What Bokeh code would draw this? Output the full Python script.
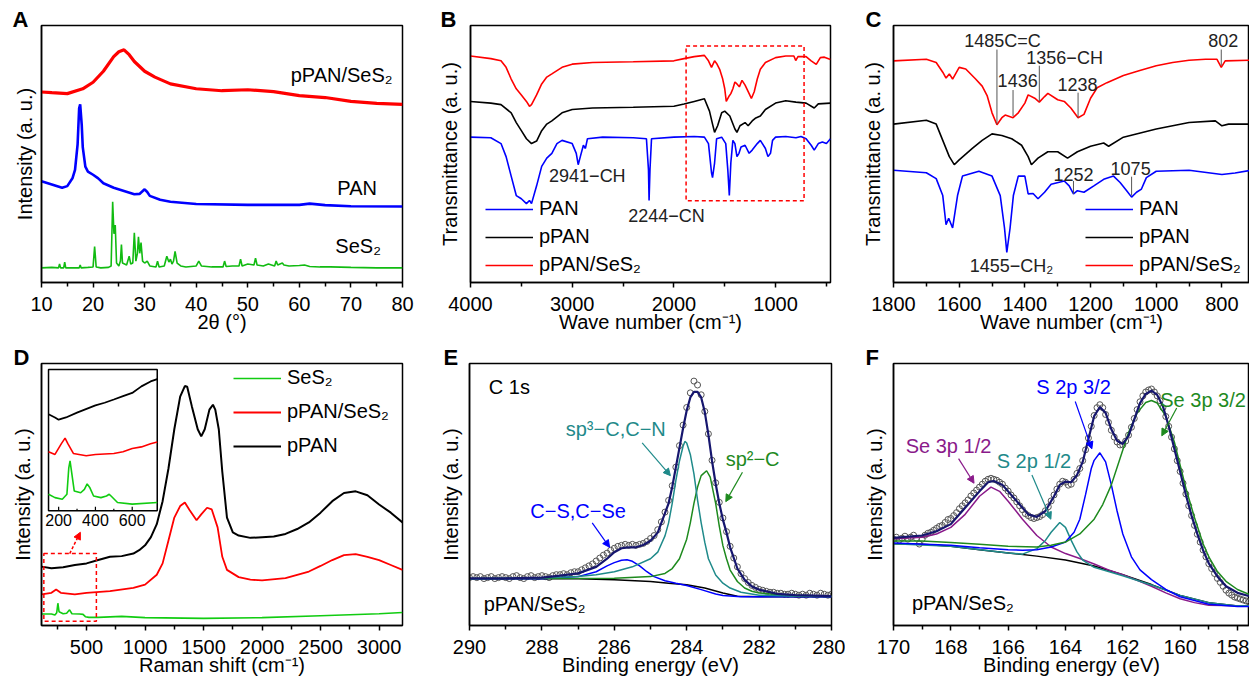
from bokeh.plotting import figure
from bokeh.layouts import row, column
from bokeh.models import (Range1d, FixedTicker, Label, Arrow, NormalHead,
                          BoxAnnotation, Legend, LegendItem)
from bokeh.embed import file_html
from bokeh.resources import INLINE
from bokeh.core.properties import value

FONT = "Liberation Sans"

# ======================= DATA =======================
# ---- A: XRD (2theta, intensity a.u.) ----
xrd_ticks = [10, 20, 30, 40, 50, 60, 70, 80]
xrd_minor = [15, 25, 35, 45, 55, 65, 75]
xrd_ppan_ses2 = [(10, 195.7), (12, 195), (15, 194), (18, 199), (20, 205.7), (22, 217), (24, 232),
                 (25, 237), (26, 239), (27, 234), (28, 227), (30, 217), (32, 211), (35, 204),
                 (40, 199), (45, 197), (50, 198), (55, 196), (60, 192), (65, 190), (70, 186),
                 (75, 184), (80, 183)]
xrd_pan = [(10, 104), (12, 100.7), (14, 97.3), (15, 99), (16, 107), (16.5, 115.7), (17, 142),
           (17.3, 179), (17.5, 183), (17.8, 162), (18, 139), (18.5, 119), (19, 114), (20, 110.7),
           (21, 107), (22, 102), (24, 97.3), (26, 94), (28, 90.7), (29, 91), (30, 95.7),
           (30.5, 93), (31, 89), (33, 85), (35, 83), (40, 80.7), (50, 79.7), (60, 79.7),
           (62, 81), (65, 79.5), (70, 78.3), (80, 78)]
xrd_ses2 = [(10, 15), (12, 15.5), (13.3, 15), (13.5, 19), (13.7, 15), (14.3, 15), (14.5, 21),
            (14.7, 15), (16, 15), (17.3, 15), (17.5, 18), (17.7, 15), (19, 15.5), (20.0, 16),
            (20.3, 37), (20.6, 16), (21.5, 15), (23.0, 15.5), (23.5, 17), (23.8, 83), (24.05, 50),
            (24.3, 59), (24.55, 20), (25.0, 17), (25.3, 22), (25.5, 39), (25.7, 20), (26.5, 18),
            (27.0, 27), (27.3, 19), (27.7, 20), (28.0, 51), (28.3, 22), (28.6, 30), (28.8, 47),
            (29.05, 30), (29.3, 41), (29.6, 22), (30.0, 20), (30.5, 22), (31.0, 17), (32.2, 16),
            (32.5, 22), (32.8, 16), (33.8, 17), (34.3, 27), (34.7, 21), (35.0, 24), (35.3, 19),
            (35.6, 22), (35.9, 32), (36.3, 20), (37, 17), (38, 16), (40.0, 17), (40.5, 22),
            (41.0, 17), (43, 16), (45.2, 16), (45.5, 22), (45.8, 16.5), (47, 17), (48.3, 17),
            (48.6, 24), (48.9, 17), (50, 19), (51.2, 18), (51.5, 25), (51.8, 18), (53, 17),
            (54, 19), (55.2, 17), (55.5, 22), (55.8, 18), (56.7, 20), (57, 18), (58, 17),
            (60, 17.5), (61, 18), (62, 16.5), (64, 16), (66, 16), (70, 15.5), (75, 15), (80, 15)]

# ---- B: FTIR full range (wavenumber, transmittance a.u.) ----
ftir_ticks = [4000, 3000, 2000, 1000]
ftir_minor = [3500, 2500, 1500, 500]
ftir_ppan_ses2 = [(4000, 232.7), (3800, 230), (3700, 227.7), (3650, 221), (3600, 209), (3550, 199),
                  (3500, 192.7), (3450, 186), (3420, 181), (3400, 182.7), (3350, 192.7),
                  (3300, 204), (3250, 211), (3200, 214.3), (3100, 221), (3000, 224.3),
                  (2800, 226), (2400, 226.7), (2000, 227.7), (1900, 230), (1800, 232),
                  (1700, 233.3), (1660, 227.7), (1630, 221), (1600, 227.7), (1580, 225),
                  (1550, 219), (1520, 209), (1500, 199), (1485, 186), (1460, 191), (1440, 194),
                  (1420, 199), (1400, 206), (1380, 204), (1356, 201), (1330, 207.7), (1300, 202.7),
                  (1260, 194), (1238, 189), (1210, 196), (1180, 209), (1150, 219), (1100, 226),
                  (1000, 231), (900, 232.7), (820, 232.7), (802, 228), (780, 232), (700, 232),
                  (650, 227.7), (600, 224), (560, 231), (520, 231.5), (460, 229)]
ftir_ppan = [(4000, 186), (3800, 184.3), (3700, 182.7), (3600, 174.3), (3550, 164.3), (3500, 156),
             (3450, 147.7), (3400, 142.7), (3350, 145.3), (3300, 156), (3250, 162.7), (3200, 166),
             (3100, 174.3), (3000, 177.7), (2800, 179.3), (2400, 180), (2000, 181), (1900, 183.3),
             (1800, 186), (1700, 188.7), (1650, 176), (1620, 162.7), (1600, 154.3), (1570, 161),
             (1530, 174.3), (1500, 176), (1450, 171), (1400, 157.7), (1380, 154.3), (1350, 161),
             (1300, 164.3), (1270, 161), (1230, 166), (1200, 168.7), (1150, 171), (1100, 177.7),
             (1000, 184.3), (900, 186.7), (800, 185.3), (700, 184.3), (620, 179.3), (580, 183.5),
             (460, 184.3)]
ftir_pan = [(4000, 149.3), (3800, 148.7), (3700, 142.7), (3650, 129.3), (3600, 109.3), (3550, 89.3),
            (3500, 86), (3450, 81), (3420, 84.3), (3400, 81), (3350, 99.3), (3300, 119.3),
            (3250, 127.7), (3200, 132.7), (3150, 142.7), (3100, 146), (3000, 142.7), (2960, 132.7),
            (2941, 121), (2920, 129.3), (2890, 141), (2870, 137.7), (2850, 147.7), (2700, 149.3),
            (2400, 148.7), (2270, 147.7), (2250, 116), (2244, 84.3), (2235, 116), (2220, 147.7),
            (2000, 149.3), (1800, 150), (1700, 149.3), (1660, 142.7), (1630, 112.7), (1620, 107.7),
            (1600, 122.7), (1580, 147.7), (1530, 149.3), (1490, 142.7), (1470, 116), (1455, 89.3),
            (1440, 122.7), (1420, 146), (1400, 142.7), (1380, 129.3), (1360, 132.7), (1340, 139.3),
            (1300, 141), (1260, 132.7), (1230, 136), (1180, 142.7), (1150, 146), (1100, 137.7),
            (1075, 129.3), (1050, 132.7), (1030, 146), (1000, 149.3), (900, 150), (800, 148.7),
            (750, 150), (700, 147.7), (650, 141), (620, 136), (580, 142.7), (540, 144.3),
            (500, 142.7), (460, 147.7)]

# ---- C: FTIR fingerprint region ----
fp_ticks = [1800, 1600, 1400, 1200, 1000, 800]
fp_minor = [1700, 1500, 1300, 1100, 900]
fp_ppan_ses2 = [(1800, 227.7), (1700, 229.3), (1670, 226), (1650, 216), (1640, 210), (1630, 214.3),
                (1620, 209), (1600, 221), (1580, 219.3), (1550, 209), (1530, 201.7), (1515, 192),
                (1500, 174.3), (1485, 162), (1470, 169.3), (1460, 172), (1436, 169.3),
                (1420, 174.3), (1400, 184.3), (1390, 192.7), (1370, 189.3), (1356, 185.3),
                (1340, 191), (1330, 194.3), (1300, 187.7), (1280, 186), (1260, 179.3),
                (1238, 169.3), (1220, 172.7), (1200, 189.3), (1180, 200), (1150, 205.3),
                (1100, 212.7), (1050, 217.7), (1000, 222.7), (950, 226), (900, 228.3),
                (850, 229.3), (815, 229.3), (802, 221), (790, 227.7), (716, 228.3)]
fp_ppan = [(1800, 162.7), (1700, 166.7), (1670, 162.7), (1650, 146), (1630, 129.3), (1615, 121),
           (1600, 126), (1560, 137.7), (1530, 146), (1500, 152.7), (1470, 151), (1440, 147.7),
           (1410, 141), (1390, 129.3), (1380, 121), (1360, 127.7), (1330, 134.3), (1300, 134.3),
           (1270, 127.7), (1240, 134.3), (1200, 140), (1160, 143.3), (1145, 140), (1100, 149.3),
           (1000, 157.7), (900, 164.3), (820, 166), (800, 161), (780, 162.7), (716, 162.7)]
fp_pan = [(1800, 115.3), (1700, 112.7), (1670, 106.7), (1650, 89.3), (1640, 59.3), (1632, 66),
          (1620, 56), (1605, 89.3), (1590, 109.3), (1540, 114.3), (1500, 109.3), (1475, 89.3),
          (1462, 56), (1455, 31), (1445, 56), (1435, 89.3), (1420, 109.3), (1400, 109.3),
          (1390, 91), (1375, 91.5), (1360, 86), (1340, 92.7), (1320, 101), (1280, 104.3),
          (1265, 99.3), (1252, 91), (1240, 94.3), (1220, 92.7), (1190, 99.3), (1160, 106),
          (1130, 109.3), (1110, 102.7), (1090, 94.3), (1075, 87.7), (1060, 92.7), (1045, 96),
          (1030, 107.7), (1000, 114.3), (900, 115.3), (800, 111), (760, 112.5), (716, 115)]

# ---- D: Raman (shift, intensity a.u.) ----
ram_ticks = [500, 1000, 1500, 2000, 2500, 3000]
ram_minor = [250, 750, 1250, 1750, 2250, 2750]
ram_ppan = [(115, 60), (200, 58.3), (300, 59.3), (400, 61.7), (500, 63.3), (600, 66.7), (700, 70),
            (800, 70.7), (900, 73.3), (950, 76.7), (1000, 81.7), (1050, 90), (1100, 103.3),
            (1150, 126.7), (1200, 160), (1250, 200), (1300, 233.3), (1340, 244), (1360, 243.3),
            (1400, 223.3), (1450, 200), (1480, 192.7), (1510, 200), (1550, 220), (1580, 225),
            (1600, 220), (1630, 200), (1660, 156.7), (1700, 110), (1750, 95), (1800, 91.7),
            (1900, 89.3), (2000, 90), (2100, 90.7), (2200, 93.3), (2300, 98.3), (2400, 105),
            (2500, 115), (2600, 126.7), (2700, 135), (2800, 136.7), (2900, 132.7), (3000, 123.3),
            (3100, 115), (3200, 105)]
ram_ppan_ses2 = [(115, 31.7), (200, 33.3), (240, 36.7), (280, 33.3), (400, 31.7), (500, 33.3),
                 (700, 35), (900, 38.3), (1000, 41.7), (1100, 51.7), (1150, 63.3), (1200, 86.7),
                 (1250, 110), (1300, 121.7), (1340, 125.3), (1380, 117.7), (1440, 107.3),
                 (1480, 113.3), (1530, 120), (1570, 118.3), (1620, 100), (1660, 70), (1700, 56.7),
                 (1800, 49.3), (1900, 46.7), (2000, 46), (2200, 48.3), (2400, 55), (2500, 60.7),
                 (2600, 66.7), (2700, 71.7), (2800, 72.7), (2900, 70), (3000, 66.7), (3100, 61.7),
                 (3200, 56.7)]
ram_ses2 = [(115, 11.7), (200, 11.7), (230, 10.7), (245, 13), (255, 22.7), (265, 14), (300, 12),
            (330, 12.5), (355, 16), (375, 12), (440, 11.7), (470, 11.3), (490, 9), (520, 8.3),
            (600, 8.3), (800, 9.3), (1000, 8), (1500, 7.3), (2000, 8), (2500, 10), (3000, 12),
            (3200, 13.3)]
# inset (low-shift region)
ins_ticks = [200, 400, 600]
ins_minor = [300, 500]
ins_ppan = [(145, 98.3), (180, 95), (200, 92.7), (240, 95), (300, 100), (400, 107.3), (450, 110),
            (500, 113.3), (550, 116.7), (600, 120), (650, 126.7), (700, 131.7), (736, 134)]
ins_ppan_ses2 = [(145, 60), (180, 57.3), (215, 68.3), (235, 74), (250, 68.3), (280, 58.3),
                 (350, 56), (400, 57.3), (500, 58.3), (550, 60), (600, 63.3), (650, 65),
                 (700, 68.3), (736, 70)]
ins_ses2 = [(145, 16.7), (180, 13.3), (220, 11.7), (245, 16.7), (255, 43.3), (262, 50.7),
            (270, 40), (285, 20), (320, 18.3), (340, 21.7), (355, 27.3), (370, 23.3), (390, 15),
            (430, 13.3), (460, 15), (475, 16.7), (485, 15), (520, 8.3), (600, 6.7), (736, 8.3)]

# ---- E: XPS C 1s ----
xps_e_ticks = [290, 288, 286, 284, 282, 280]
xps_e_minor = [289, 287, 285, 283, 281]
c1s_x = [290.0, 289.9, 289.8, 289.7, 289.6, 289.5, 289.4, 289.3, 289.2, 289.1,
         289.0, 288.9, 288.8, 288.7, 288.6, 288.5, 288.4, 288.3, 288.2, 288.1,
         288.0, 287.9, 287.8, 287.7, 287.6, 287.5, 287.4, 287.3, 287.2, 287.1,
         287.0, 286.9, 286.8, 286.7, 286.6, 286.5, 286.4, 286.3, 286.2, 286.1,
         286.0, 285.9, 285.8, 285.7, 285.6, 285.5, 285.4, 285.3, 285.2, 285.1,
         285.0, 284.9, 284.8, 284.7, 284.6, 284.5, 284.4, 284.3, 284.2, 284.1,
         284.0, 283.9, 283.8, 283.7, 283.6, 283.5, 283.4, 283.3, 283.2, 283.1,
         283.0, 282.9, 282.8, 282.7, 282.6, 282.5, 282.4, 282.3, 282.2, 282.1,
         282.0, 281.9, 281.8, 281.7, 281.6, 281.5, 281.4, 281.3, 281.2, 281.1,
         281.0, 280.9, 280.8, 280.7, 280.6, 280.5, 280.4, 280.3, 280.2, 280.1,
         280.0]
c1s_y = [49, 50, 49, 50, 48, 49, 50, 48, 49, 50,
         49, 48, 50, 51, 49, 48, 50, 51, 49, 50,
         51, 50, 49, 51, 52, 52, 53, 52, 54, 55,
         55, 57, 59, 61, 63, 66, 69, 72, 74, 77,
         79, 81, 82, 83, 82, 83, 82, 83, 84, 86,
         89, 92, 98, 106, 116, 128, 143, 162, 184, 205,
         223, 238, 250, 246, 236, 219, 196, 169, 146, 126,
         110, 96, 81, 69, 60, 53, 48, 44, 41, 39,
         37, 36, 35, 34, 34, 33, 33, 32, 32, 33,
         32, 31, 32, 31, 33, 32, 31, 33, 32, 31,
         32]
c1s_env = [(290, 48.3), (289, 48.3), (288, 49), (287.5, 51), (287, 53.3), (286.5, 60), (286.2, 68.3),
           (286, 75), (285.8, 79), (285.6, 80), (285.4, 80), (285.2, 82.3), (285, 86.7),
           (284.8, 95), (284.6, 115), (284.5, 125), (284.4, 141.7), (284.3, 161.7),
           (284.2, 181.7), (284.1, 201.7), (284, 220), (283.9, 233.3), (283.8, 239),
           (283.7, 239), (283.6, 233.3), (283.5, 218.3), (283.4, 195), (283.3, 168.3),
           (283.2, 145), (283.1, 125), (283, 108.3), (282.9, 95), (282.8, 80), (282.6, 58.3),
           (282.4, 46.7), (282.2, 40), (282, 36.7), (281.5, 32.3), (281, 31), (280, 30)]
c1s_bg = [(290, 47.7), (287, 47.7), (286, 46.7), (285, 45), (284.5, 43.3), (284, 41.7),
          (283.5, 38.3), (283, 33.3), (282.6, 30), (282, 29.3), (280, 29.3)]
c1s_sp3 = [(290, 47.7), (288, 48.7), (287, 50), (286.5, 52), (286, 55), (285.5, 60), (285, 68.3),
           (284.8, 75), (284.6, 91.7), (284.5, 105), (284.4, 125), (284.3, 148.3), (284.2, 168.3),
           (284.1, 183.3), (284.05, 188.3), (284, 186.7), (283.9, 175), (283.8, 155),
           (283.7, 128.3), (283.6, 105), (283.5, 85), (283.4, 68.3), (283.2, 51.7), (283, 43.3),
           (282.8, 38.3), (282.5, 34), (282, 31), (281, 30), (280, 29.7)]
c1s_sp2 = [(290, 48), (286, 48.3), (285, 50), (284.6, 53.3), (284.4, 58.3), (284.2, 68.3),
           (284, 88.3), (283.9, 105), (283.8, 125), (283.7, 141.7), (283.6, 153.3),
           (283.45, 158.3), (283.35, 151.7), (283.2, 125), (283.1, 101.7), (283, 81.7),
           (282.9, 68.3), (282.8, 56.7), (282.6, 45), (282.4, 38.3), (282.2, 35), (282, 33.3),
           (281.5, 31.7), (281, 31), (280, 30)]
c1s_cs = [(290, 47.7), (288, 47.7), (287, 50), (286.5, 55), (286.2, 61), (286, 64.3), (285.8, 66.7),
          (285.65, 67.3), (285.5, 65.7), (285.3, 61), (285.1, 55), (284.9, 50), (284.6, 45.7),
          (284.3, 43.3), (284, 41), (283.6, 36.7), (283.2, 32.3), (283, 30.7), (282.5, 29.3),
          (280, 29.3)]

# ---- F: XPS S 2p / Se 3p ----
xps_f_ticks = [170, 168, 166, 164, 162, 160, 158]
xps_f_minor = [169, 167, 165, 163, 161, 159]
s2p_x = [170.0, 169.9, 169.8, 169.7, 169.6, 169.5, 169.4, 169.3, 169.2, 169.1,
         169.0, 168.9, 168.8, 168.7, 168.6, 168.5, 168.4, 168.3, 168.2, 168.1,
         168.0, 167.9, 167.8, 167.7, 167.6, 167.5, 167.4, 167.3, 167.2, 167.1,
         167.0, 166.9, 166.8, 166.7, 166.6, 166.5, 166.4, 166.3, 166.2, 166.1,
         166.0, 165.9, 165.8, 165.7, 165.6, 165.5, 165.4, 165.3, 165.2, 165.1,
         165.0, 164.9, 164.8, 164.7, 164.6, 164.5, 164.4, 164.3, 164.2, 164.1,
         164.0, 163.9, 163.8, 163.7, 163.6, 163.5, 163.4, 163.3, 163.2, 163.1,
         163.0, 162.9, 162.8, 162.7, 162.6, 162.5, 162.4, 162.3, 162.2, 162.1,
         162.0, 161.9, 161.8, 161.7, 161.6, 161.5, 161.4, 161.3, 161.2, 161.1,
         161.0, 160.9, 160.8, 160.7, 160.6, 160.5, 160.4, 160.3, 160.2, 160.1,
         160.0, 159.9, 159.8, 159.7, 159.6, 159.5, 159.4, 159.3, 159.2, 159.1,
         159.0, 158.9, 158.8, 158.7, 158.6, 158.5, 158.4, 158.3, 158.2, 158.1,
         158.0, 157.9, 157.8, 157.7, 157.6]
s2p_y = [88, 90, 87, 89, 91, 88, 90, 92, 89, 83,
         88, 92, 94, 95, 97, 99, 101, 102, 105, 108,
         109, 112, 115, 119, 122, 125, 128, 132, 135, 138,
         141, 144, 147, 149, 150, 149, 148, 146, 144, 140,
         137, 133, 130, 126, 122, 118, 114, 112, 110, 109,
         110, 111, 113, 117, 121, 127, 133, 139, 144, 147,
         146, 143, 144, 149, 155, 160, 168, 179, 191, 203,
         214, 222, 225, 222, 215, 207, 199, 192, 187, 184,
         184, 188, 194, 202, 211, 220, 228, 234, 238, 240,
         241, 238, 234, 229, 222, 213, 203, 192, 180, 168,
         157, 145, 134, 122, 112, 102, 93, 85, 77, 70,
         63, 58, 53, 48, 44, 40, 36, 33, 31, 29,
         28, 27, 26, 25, 24]
s2p_env = [(170, 89.3), (169, 91.7), (168.5, 96), (168, 103.3), (167.5, 120), (167, 136.7),
           (166.7, 146), (166.5, 147.3), (166.2, 143.3), (166, 136.7), (165.6, 123.3),
           (165.3, 113.3), (165, 110.7), (164.7, 116.7), (164.4, 131.7), (164.2, 143.3),
           (164, 146.7), (163.8, 146), (163.6, 153.3), (163.4, 166.7), (163.2, 190),
           (163, 213.3), (162.8, 222.7), (162.6, 216.7), (162.4, 200), (162.2, 188.3),
           (162, 185), (161.8, 193.3), (161.6, 210), (161.4, 226.7), (161.2, 236), (161, 239.3),
           (160.8, 235), (160.6, 223.3), (160.4, 203.3), (160.2, 180), (160, 156.7),
           (159.8, 133.3), (159.6, 111.7), (159.4, 93.3), (159.2, 76.7), (159, 63.3),
           (158.7, 50), (158.4, 40), (158, 33.3), (157.6, 30)]
s2p_bg = [(170, 83.3), (169, 82.7), (168, 80.7), (167, 77.3), (166, 74), (165, 70.7), (164, 66.7),
          (163, 60.7), (162, 51.7), (161, 41.7), (160, 30.7), (159, 23.3), (158, 20), (157.6, 20)]
se3p12 = [(170, 88.3), (169, 90), (168.5, 93.3), (168, 100), (167.5, 113.3), (167, 131.7),
          (166.6, 141), (166.3, 136.7), (166, 126.7), (165.5, 108.3), (165, 91.7), (164.5, 80),
          (164, 73.3), (163.5, 68.3), (163, 62.7), (162.5, 56.7), (162, 51.7), (161.5, 46),
          (161, 40), (160.5, 33.3), (160, 27.3), (159.5, 23.3), (159, 20.7), (158, 20),
          (157.6, 20)]
s2p12 = [(170, 83.3), (168, 80.7), (166, 74), (165.5, 72.7), (165, 78.3), (164.7, 86.7),
         (164.5, 95), (164.2, 105), (164, 100), (163.8, 86.7), (163.6, 75), (163.4, 66.7),
         (163, 59.3), (162.5, 55), (162, 50.7), (161, 41.3), (160, 30.7), (159, 23.3), (158, 20),
         (157.6, 20)]
s2p32 = [(170, 84), (168, 81.7), (167, 79.3), (166, 77.3), (165.5, 76.7), (165, 77.3), (164.5, 80),
         (164, 85), (163.7, 95), (163.5, 108.3), (163.3, 133.3), (163.1, 160), (163, 168.3),
         (162.8, 176), (162.6, 166.7), (162.4, 143.3), (162.2, 116.7), (162, 93.3), (161.7, 70),
         (161.4, 56.7), (161, 46.7), (160.5, 36.7), (160, 29.3), (159, 21.7), (158, 19.3),
         (157.6, 19.3)]
se3p32 = [(170, 86), (169, 86), (168, 84.7), (167, 82.7), (166, 80.7), (165, 80), (164.5, 81.7),
          (164, 85), (163.5, 93.3), (163, 108.3), (162.7, 123.3), (162.4, 143.3), (162.1, 170),
          (161.8, 196.7), (161.5, 216.7), (161.2, 227.3), (161, 229.3), (160.8, 226.7),
          (160.5, 213.3), (160.2, 186.7), (160, 163.3), (159.8, 140), (159.5, 110),
          (159.2, 83.3), (159, 70), (158.7, 55), (158.4, 45), (158, 36.7), (157.6, 31.7)]

# ======================= STYLE / LAYOUT =======================
RED, BLUE, BLACK = "#ff0000", "#0000ff", "#000000"
GREEN_XRD, GREEN_RAM = "#11bb11", "#11cc11"
NAVY, TEAL, DGREEN, PURPLE = "#16166e", "#1f8a8a", "#1e8a1e", "#8a1a8a"
ANN = "#222222"

TOP_H, BOT_H = 335, 343
TOP_T, TOP_B = 25, 46
BOT_T, BOT_B = 28, 48


def xy(pairs):
    return [a for a, b in pairs], [b for a, b in pairs]


def make_fig(W, H, left, right, top, bottom, xr, yr, xlabel, ylabel, ystand, ticks, minor,
             panel, panel_dx):
    p = figure(width=W, height=H, x_range=Range1d(*xr), y_range=Range1d(*yr),
               output_backend="svg", toolbar_location=None,
               min_border_left=left, min_border_right=right,
               min_border_top=top, min_border_bottom=bottom)
    # panel letter as a left-aligned title over the frame's top-left corner
    p.title.text = panel
    p.title.align = "left"
    p.title.offset = panel_dx
    p.title.standoff = -13
    p.title.text_font = FONT
    p.title.text_font_size = "22px"
    p.title.text_font_style = "bold"
    p.title.text_color = "black"
    p.background_fill_color = "white"
    p.border_fill_color = "white"
    p.xgrid.visible = False
    p.ygrid.visible = False
    p.outline_line_color = "black"
    p.outline_line_width = 1.5
    p.outline_line_alpha = 1.0
    xa = p.xaxis[0]
    xa.ticker = FixedTicker(ticks=ticks, minor_ticks=minor)
    xa.axis_label = xlabel
    xa.axis_label_text_font = FONT
    xa.axis_label_text_font_size = "20px"
    xa.axis_label_text_font_style = "normal"
    xa.axis_label_text_color = "black"
    xa.axis_label_standoff = -3
    xa.major_label_text_font = FONT
    xa.major_label_text_font_size = "20px"
    xa.major_label_text_color = "black"
    xa.major_label_standoff = 9
    xa.major_tick_in = 0
    xa.major_tick_out = 5
    xa.minor_tick_in = 0
    xa.minor_tick_out = 4
    xa.axis_line_width = 1.5
    xa.major_tick_line_width = 1.5
    xa.minor_tick_line_width = 1.5
    ya = p.yaxis[0]
    ya.ticker = FixedTicker(ticks=[])
    ya.axis_label = ylabel
    ya.axis_label_text_font = FONT
    ya.axis_label_text_font_size = "20px"
    ya.axis_label_text_font_style = "normal"
    ya.axis_label_text_color = "black"
    ya.axis_label_standoff = ystand
    ya.major_tick_in = 0
    ya.major_tick_out = 0
    ya.minor_tick_in = 0
    ya.minor_tick_out = 0
    ya.axis_line_width = 1.5
    return p


def note(p, x, y, text, color=ANN, size="18px", align="center", baseline="middle"):
    p.add_layout(Label(x=x, y=y, text=text, text_color=color, text_font=FONT,
                       text_font_size=size, text_align=align, text_baseline=baseline))


def arrow(p, x0, y0, x1, y1, color, head=True, dash="solid", width=1.2):
    end = NormalHead(size=7, fill_color=color, line_color=color, line_width=1) if head else None
    p.add_layout(Arrow(end=end, x_start=x0, y_start=y0, x_end=x1, y_end=y1,
                       line_color=color, line_width=width, line_dash=dash))


def box(p, left, right, bottom, top):
    p.add_layout(BoxAnnotation(left=left, right=right, bottom=bottom, top=top,
                               fill_alpha=0, line_color=RED, line_alpha=1.0,
                               line_dash="4 3", line_width=1.5))


def legend(p, items, loc, spacing):
    lg = Legend(items=[LegendItem(label=lab, renderers=[r]) for lab, r in items],
                location=loc, label_text_font=FONT, label_text_font_size="20px",
                label_text_color="black", glyph_width=48, glyph_height=22, label_height=22,
                label_standoff=6, spacing=spacing, padding=0, margin=0,
                border_line_alpha=0, background_fill_alpha=0)
    p.add_layout(lg)


# ---------------- A ----------------
pA = make_fig(420, TOP_H, 41, 18, TOP_T, TOP_B, (10, 80), (0, 264), "2θ (°)",
              "Intensity (a. u.)", 6, xrd_ticks, xrd_minor, "A", -29)
x, y = xy(xrd_ses2); pA.line(x, y, color=GREEN_XRD, line_width=1.6)
x, y = xy(xrd_pan); pA.line(x, y, color=BLUE, line_width=2.6)
x, y = xy(xrd_ppan_ses2); pA.line(x, y, color=RED, line_width=3.2)
note(pA, 68.2, 213, "pPAN/SeS₂", "black", "20px")
note(pA, 71.2, 97, "PAN", "black", "20px")
note(pA, 71.4, 37, "SeS₂", "black", "20px")

# ---------------- B ----------------
pB = make_fig(425, TOP_H, 50, 15, TOP_T, TOP_B, (4000, 460), (0, 264), "Wave number (cm⁻¹)",
              "Transmittance (a. u.)", 10, ftir_ticks, ftir_minor, "B", -30)
x, y = xy(ftir_pan); rb = pB.line(x, y, color=BLUE, line_width=1.6)
x, y = xy(ftir_ppan); rk = pB.line(x, y, color=BLACK, line_width=1.6)
x, y = xy(ftir_ppan_ses2); rr = pB.line(x, y, color=RED, line_width=1.6)
box(pB, 1880, 720, 84, 243)
note(pB, 2851, 109, "2941−CH")
note(pB, 2073, 68, "2244−CN")
legend(pB, [("PAN", rb), ("pPAN", rk), ("pPAN/SeS₂", rr)], (15, 6), 5)

# ---------------- C ----------------
pC = make_fig(404, TOP_H, 48, 0, TOP_T, TOP_B, (1800, 716), (0, 264), "Wave number (cm⁻¹)",
              "Transmittance (a. u.)", 10, fp_ticks, fp_minor, "C", -28)
x, y = xy(fp_pan); cb = pC.line(x, y, color=BLUE, line_width=1.6)
x, y = xy(fp_ppan); ck = pC.line(x, y, color=BLACK, line_width=1.6)
x, y = xy(fp_ppan_ses2); cr = pC.line(x, y, color=RED, line_width=1.6)
for (px, y0, y1) in [(1485, 239.3, 162.7), (1356, 222.7, 186), (1436, 197.7, 171),
                     (1238, 195, 169.3), (802, 239.3, 222.7), (1252, 104.3, 91),
                     (1075, 108.7, 89.3)]:
    arrow(pC, px, y0, px, y1, "#555555", head=False, width=1)
note(pC, 1468, 248, "1485C=C")
note(pC, 1279, 231, "1356−CH")
note(pC, 1422, 207, "1436")
note(pC, 1240, 203, "1238")
note(pC, 796, 249, "802")
note(pC, 1252, 111, "1252")
note(pC, 1078, 117, "1075")
note(pC, 1441, 17, "1455−CH₂")
legend(pC, [("PAN", cb), ("pPAN", ck), ("pPAN/SeS₂", cr)], (192, 6), 5)

# ---------------- D ----------------
D_XR = (115, 3200)
D_YR = (0, 267)
pD = make_fig(420, BOT_H, 41, 18, BOT_T, BOT_B, D_XR, D_YR, "Raman shift (cm⁻¹)",
              "Intensity (a. u.)", 8, ram_ticks, ram_minor, "D", -28)
x, y = xy(ram_ses2); dg = pD.line(x, y, color=GREEN_RAM, line_width=1.6)
x, y = xy(ram_ppan_ses2); dr = pD.line(x, y, color=RED, line_width=1.8)
x, y = xy(ram_ppan); dk = pD.line(x, y, color=BLACK, line_width=2.0)
box(pD, 135, 584, 4.3, 73.3)
arrow(pD, 356, 73.3, 447, 95, RED, head=True, dash="3 2", width=1.5)
# inset placed through extra ranges
INSET_MAIN_X = (175, 1104)
INSET_MAIN_Y = (117, 261)
INSET_X = (145, 736)
INSET_Y = (0, 144)
kx = (INSET_X[1] - INSET_X[0]) / (INSET_MAIN_X[1] - INSET_MAIN_X[0])
ky = (INSET_Y[1] - INSET_Y[0]) / (INSET_MAIN_Y[1] - INSET_MAIN_Y[0])
pD.extra_x_ranges = {"ix": Range1d(INSET_X[0] + (D_XR[0] - INSET_MAIN_X[0]) * kx,
                                   INSET_X[0] + (D_XR[1] - INSET_MAIN_X[0]) * kx)}
pD.extra_y_ranges = {"iy": Range1d(INSET_Y[0] + (D_YR[0] - INSET_MAIN_Y[0]) * ky,
                                   INSET_Y[0] + (D_YR[1] - INSET_MAIN_Y[0]) * ky)}
IR = dict(x_range_name="ix", y_range_name="iy")
pD.quad(left=[INSET_X[0]], right=[INSET_X[1]], bottom=[INSET_Y[0]], top=[INSET_Y[1]],
        fill_color="white", line_color="black", line_width=1.5, **IR)
x, y = xy(ins_ses2); pD.line(x, y, color=GREEN_RAM, line_width=1.6, **IR)
x, y = xy(ins_ppan_ses2); pD.line(x, y, color=RED, line_width=1.6, **IR)
x, y = xy(ins_ppan); pD.line(x, y, color=BLACK, line_width=1.8, **IR)
pD.segment(x0=ins_ticks, y0=[INSET_Y[0]] * len(ins_ticks), x1=ins_ticks,
           y1=[INSET_Y[0] + 4] * len(ins_ticks), line_color="black", line_width=1.2, **IR)
pD.segment(x0=ins_minor, y0=[INSET_Y[0]] * len(ins_minor), x1=ins_minor,
           y1=[INSET_Y[0] + 2] * len(ins_minor), line_color="black", line_width=1.2, **IR)
pD.text(x=ins_ticks, y=[INSET_Y[0]] * len(ins_ticks), text=[str(t) for t in ins_ticks],
        text_font=value(FONT), text_font_size=value("16px"), text_align="center",
        text_baseline="top", y_offset=3, text_color="black", **IR)
legend(pD, [("SeS₂", dg), ("pPAN/SeS₂", dr), ("pPAN", dk)], (192, 168), 11)

# ---------------- E ----------------
pE = make_fig(425, BOT_H, 49, 14, BOT_T, BOT_B, (290, 280), (0, 268), "Binding energy (eV)",
              "Intensity (a. u.)", 8, xps_e_ticks, xps_e_minor, "E", -26)
pE.scatter(c1s_x, c1s_y, marker="circle", size=6, fill_color=None, line_color="#555555",
           line_width=1)
x, y = xy(c1s_bg); pE.line(x, y, color=BLACK, line_width=1.5)
x, y = xy(c1s_cs); pE.line(x, y, color=BLUE, line_width=1.5)
x, y = xy(c1s_sp2); pE.line(x, y, color=DGREEN, line_width=1.5)
x, y = xy(c1s_sp3); pE.line(x, y, color=TEAL, line_width=1.5)
x, y = xy(c1s_env); pE.line(x, y, color=NAVY, line_width=2.2)
note(pE, 288.9, 244, "C 1s", "black", "20px")
note(pE, 285.96, 201, "sp³−C,C−N", TEAL, "20px")
note(pE, 282.18, 170, "sp²−C", DGREEN, "20px")
note(pE, 287.0, 117, "C−S,C−Se", BLUE, "20px")
note(pE, 288.2, 22, "pPAN/SeS₂", "black", "20px")
arrow(pE, 285.23, 186.7, 284.45, 153.3, TEAL)
arrow(pE, 282.46, 156.7, 282.92, 126.7, DGREEN)
arrow(pE, 286.61, 105, 286.13, 80, BLUE)

# ---------------- F ----------------
pF = make_fig(404, BOT_H, 48, 0, BOT_T, BOT_B, (170, 157.58), (0, 267), "Binding energy (eV)",
              "Intensity (a. u.)", 8, xps_f_ticks, xps_f_minor, "F", -28)
pF.scatter(s2p_x, s2p_y, marker="circle", size=6, fill_color=None, line_color="#555555",
           line_width=1)
x, y = xy(s2p_bg); pF.line(x, y, color=BLACK, line_width=1.5)
x, y = xy(se3p12); pF.line(x, y, color=PURPLE, line_width=1.5)
x, y = xy(s2p12); pF.line(x, y, color=TEAL, line_width=1.5)
x, y = xy(s2p32); pF.line(x, y, color=BLUE, line_width=1.5)
x, y = xy(se3p32); pF.line(x, y, color=DGREEN, line_width=1.5)
x, y = xy(s2p_env); pF.line(x, y, color=NAVY, line_width=2.2)
note(pF, 168.08, 183, "Se 3p 1/2", PURPLE, "20px")
note(pF, 165.1, 168, "S 2p 1/2", TEAL, "20px")
note(pF, 163.72, 243, "S 2p 3/2", BLUE, "20px")
note(pF, 159.2, 230, "Se 3p 3/2", DGREEN, "20px")
note(pF, 167.58, 23, "pPAN/SeS₂", "black", "20px")
arrow(pF, 167.73, 170, 167.19, 145, PURPLE)
arrow(pF, 165.17, 153.3, 164.51, 108.3, TEAL)
arrow(pF, 163.66, 228.3, 163.08, 180, BLUE)
arrow(pF, 160.12, 221.7, 160.64, 193.3, DGREEN)

layout = column(row(pA, pB, pC), row(pD, pE, pF))
open("out.html", "w").write(file_html(layout, INLINE))
